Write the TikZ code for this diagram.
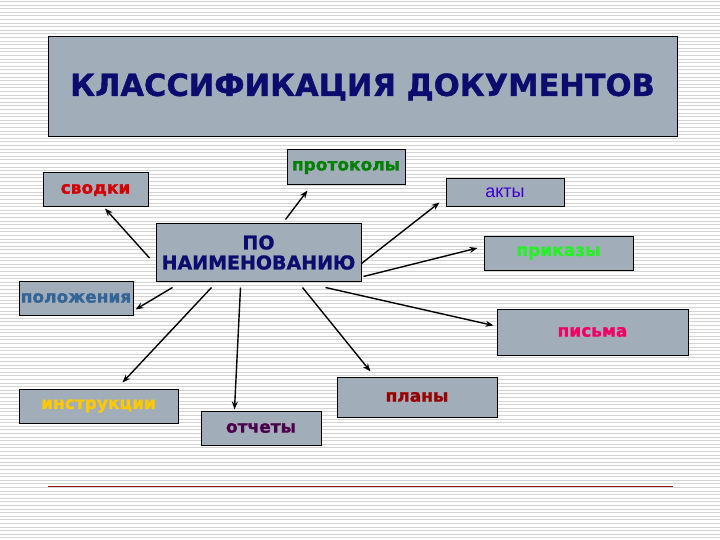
\documentclass[tikz,border=0pt]{standalone}
\usepackage{fontspec}
\setmainfont[FakeBold=1.2]{DejaVu Sans}
\newfontfamily\arialfont{Liberation Sans}
\usetikzlibrary{arrows.meta}
\definecolor{boxgray}{RGB}{162,173,186}
\definecolor{navytext}{RGB}{12,12,110}
\definecolor{redline}{RGB}{150,20,20}
\begin{document}
\begin{tikzpicture}[x=1pt,y=-1pt,
	every node/.style={align=center},
	box/.style={draw=black,line width=1pt,fill=boxgray,inner sep=0pt,
		font=\bfseries\fontsize{17}{19}\selectfont},
	arr/.style={-{Stealth[length=8pt,width=6pt]},line width=1.4pt},
	stripe/.style={black!17,line width=1pt}]
	\useasboundingbox (0,0) rectangle (720,540);
	\fill[white] (0,0) rectangle (720,540);
	\foreach \y in {1.5,5.1,...,540}
		\draw[stripe] (0,\y) -- (720,\y);
	% boxes
	\node[box,minimum width=629,minimum height=100,text=navytext,
		font=\bfseries\fontsize{30.5}{32}\selectfont] (titel) at (362.5,87) {КЛАССИФИКАЦИЯ ДОКУМЕНТОВ};
	\node[box,minimum width=205,minimum height=57,text=navytext,
		font=\bfseries\fontsize{19}{20}\selectfont] (naim) at (258.5,252.5) {ПО\\НАИМЕНОВАНИЮ};
	\node[box,minimum width=118,minimum height=35,text={rgb,255:red,0;green,128;blue,0}] (prot) at (346,167.5) {протоколы};
	\node[box,minimum width=105,minimum height=34,text={rgb,255:red,210;green,0;blue,0}] (svod) at (95.5,190) {сводки};
	\node[box,minimum width=118,minimum height=28,text={rgb,255:red,60;green,0;blue,210},
		font=\arialfont\fontsize{18}{20}\selectfont] (akty) at (505,193) {акты};
	\node[box,minimum width=149,minimum height=34,text={rgb,255:red,40;green,240;blue,40}] (prik) at (558.5,253) {приказы};
	\node[box,minimum width=114,minimum height=34,text={rgb,255:red,50;green,100;blue,150}] (polo) at (76,298) {положения};
	\node[box,minimum width=191,minimum height=46,text={rgb,255:red,240;green,0;blue,100}] (pism) at (592.5,332) {письма};
	\node[box,minimum width=159,minimum height=34,text={rgb,255:red,255;green,200;blue,0}] (instr) at (98.5,406) {инструкции};
	\node[box,minimum width=120,minimum height=34,text={rgb,255:red,75;green,0;blue,75}] (otch) at (261,428) {отчеты};
	\node[box,minimum width=160,minimum height=40,text={rgb,255:red,150;green,0;blue,0}] (plan) at (417,397) {планы};
	% arrows
	\draw[arr] ([shift={(-6,5.5)}]naim.west) -- ([shift={(9.5,1)}]svod.south);
	\draw[arr] ([shift={(130,-4)}]naim.north west) -- ([shift={(21,5)}]prot.south west);
	\draw[arr] ([shift={(0,11)}]naim.east) -- ([shift={(-6,-5)}]akty.south west);
	\draw[arr] ([shift={(2,-5)}]naim.south east) -- ([shift={(-6,-5)}]prik.west);
	\draw[arr] ([shift={(-36,6)}]naim.south east) -- ([shift={(-3,17)}]pism.north west);
	\draw[arr] ([shift={(17,6)}]naim.south west) -- ([shift={(2,29)}]polo.north east);
	\draw[arr] ([shift={(56,6)}]naim.south west) -- ([shift={(104,-6)}]instr.north west);
	\draw[arr] ([shift={(85,6)}]naim.south west) -- ([shift={(34,-1)}]otch.north west);
	\draw[arr] ([shift={(147,6)}]naim.south west) -- ([shift={(34,-5)}]plan.north west);
	\draw[redline,line width=1pt] (48,486) -- (673,486);
\end{tikzpicture}
\end{document}
